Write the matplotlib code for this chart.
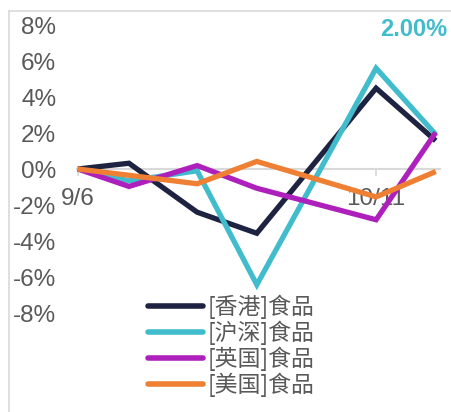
import matplotlib
matplotlib.use('Agg')
import matplotlib.pyplot as plt
import matplotlib.dates as mdates
import pandas as pd
from matplotlib.lines import Line2D

# weekly returns (%)
dates = pd.to_datetime(['2019-09-06', '2019-09-12', '2019-09-20', '2019-09-27',
                        '2019-10-11', '2019-10-18'])
hk_food = [0, 0.32, -2.40, -3.57, 4.49, 1.57]
sh_sz_food = [0, -0.66, -0.10, -6.43, 5.60, 1.92]
uk_food = [0, -0.97, 0.19, -1.07, -2.82, 2.03]
us_food = [0, -0.35, -0.82, 0.42, -1.55, -0.14]

labels = ['[香港]食品', '[沪深]食品', '[英国]食品', '[美国]食品']
colors = ['#1d2340', '#41bccc', '#ae20bc', '#ef7f32']
yticks = [8, 6, 4, 2, 0, -2, -4, -6, -8]
xtick_dates = pd.to_datetime(['2019-09-06', '2019-10-11'])
xtick_labels = ['9/6', '10/11']
note = '2.00%'

plt.rcParams['font.family'] = ['Liberation Sans', 'DejaVu Sans']
grey = '#595959'

fig = plt.figure(figsize=(4.52, 4.12), dpi=100)
ax = fig.add_axes([77 / 452, 99 / 412, 363 / 452, 288 / 412])

for series, lab, c in zip([hk_food, sh_sz_food, uk_food, us_food], labels, colors):
    ax.plot(dates, series, color=c, lw=3.8, label=lab, solid_capstyle='butt',
            solid_joinstyle='miter', clip_on=False)

x0 = mdates.date2num(dates[0])
ax.set_xlim(x0 - 0.1, x0 + 42.5)
ax.set_ylim(-8, 8)

for s in ['top', 'right', 'left']:
    ax.spines[s].set_visible(False)
ax.spines['bottom'].set_position(('data', 0))
ax.spines['bottom'].set_color('#d9d9d9')
ax.spines['bottom'].set_linewidth(1.5)
ax.spines['bottom'].set_zorder(0)

ax.set_xticks(mdates.date2num(xtick_dates))
ax.set_xticklabels(xtick_labels)
ax.tick_params(axis='x', direction='out', length=5, width=1.2, color='#d9d9d9',
               labelsize=17.5, labelcolor=grey, pad=9)
ax.set_yticks(yticks)
ax.set_yticklabels(['%d%%' % v for v in yticks])
ax.tick_params(axis='y', length=0, labelsize=17.5, labelcolor=grey, pad=15)

fig.text(447 / 452, 1 - 29 / 412, note, ha='right', va='center',
         fontsize=17, fontweight='bold', color='#41bccc')

leg = ax.legend(loc='upper left', bbox_to_anchor=(148 / 452, 1 - 295 / 412),
                bbox_transform=fig.transFigure, frameon=False, borderpad=0,
                borderaxespad=0, handlelength=2.4, handletextpad=0.22,
                labelspacing=0.06, prop={'family': ['Noto Sans CJK SC'], 'size': 16.5})
for t in leg.get_texts():
    t.set_color(grey)
for h in leg.get_lines():
    h.set_linewidth(4)
    h.set_solid_capstyle('round')

# outer chart border (only top/left visible in the crop)
fig.add_artist(Line2D([8.5 / 452, 1.2], [1 - 11 / 412, 1 - 11 / 412],
                      transform=fig.transFigure, color='#d9d9d9', lw=1.2))
fig.add_artist(Line2D([8.5 / 452, 8.5 / 452], [-0.2, 1 - 11 / 412],
                      transform=fig.transFigure, color='#d9d9d9', lw=1.2))

fig.savefig('out.png', dpi=100)
